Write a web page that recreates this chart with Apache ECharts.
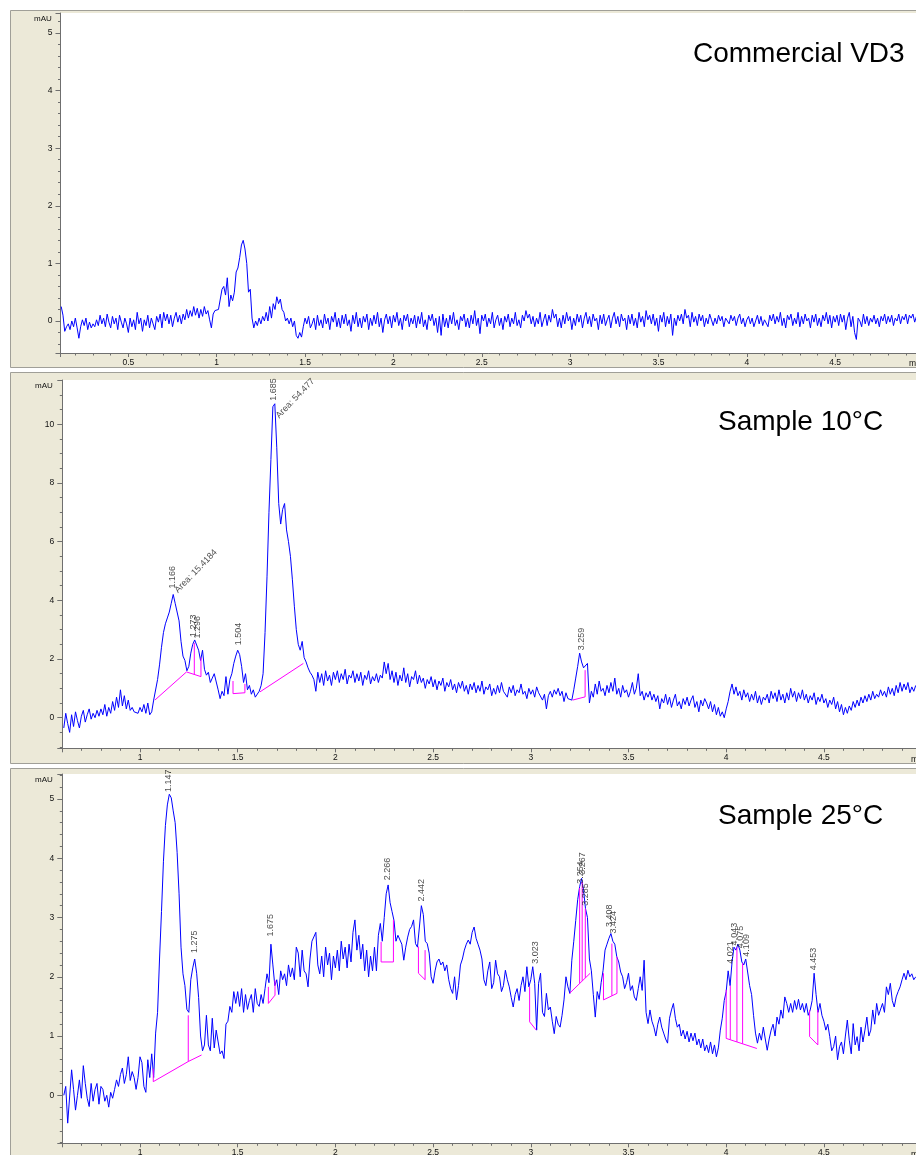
<!DOCTYPE html>
<html><head><meta charset="utf-8">
<script src="https://cdn.jsdelivr.net/npm/echarts@6/dist/echarts.min.js"></script>
<style>html,body{margin:0;padding:0;background:#fff;}#c{width:916px;height:1155px;}</style>
</head><body><div id="c"></div>
<script>
// Sampling: retention time (min) of first point and step
const T0_VD3 = 0.12, T0_S10 = 0.61, T0_S25 = 0.61, DT = 0.01;

// Panel 1: Commercial VD3 (mAU), t = 0.12 .. 4.96
const vd3 = [
0.25,0.1,-0.18,-0.1,-0.05,-0.15,0,-0.1,0.05,-0.12,
-0.3,-0.1,0.02,-0.08,0.05,-0.15,-0.02,-0.12,-0.05,-0.1,
0.02,-0.08,0.1,-0.05,0.05,-0.1,0.12,-0.02,-0.12,0.08,
-0.05,0.05,-0.15,0.1,-0.02,-0.12,0.05,-0.05,-0.2,0.05,
-0.1,0.02,-0.15,0.15,-0.05,0.05,-0.18,0.02,-0.08,0.1,
-0.12,0.05,-0.05,-0.15,0.08,-0.02,0.12,-0.12,0.15,0,
0.12,-0.05,0.1,-0.1,0.05,0.15,-0.02,0.1,-0.05,0.12,
0.02,0.2,0.05,0.18,0.08,0.25,0.1,0.22,0.05,0.2,
0.08,0.25,0.12,0.18,0.02,-0.12,0.12,0.18,0.15,0.2,
0.22,0.55,0.6,0.45,0.75,0.25,0.45,0.35,0.5,0.85,
0.92,1.1,1.32,1.4,1.25,1.0,0.5,0.55,0.05,-0.12,
0,-0.08,0.05,-0.05,0.08,0,0.15,0,0.25,0.05,
0.3,0.2,0.42,0.3,0.38,0.2,0.15,0,0.05,-0.05,
0.05,-0.1,0,-0.25,-0.3,-0.2,-0.28,-0.1,0.05,-0.05,
0.08,-0.12,-0.05,0.05,-0.15,0.1,-0.08,0.02,-0.12,0.12,
-0.05,0.05,-0.15,0.08,-0.02,0.15,-0.1,0.05,-0.12,0.1,
-0.05,0.12,-0.08,0.02,-0.18,0.1,-0.05,0.15,-0.1,0.05,
-0.12,0.08,-0.02,0.12,-0.15,0.05,-0.08,0.1,-0.05,0.15,
-0.1,0.05,-0.2,0.02,0.12,-0.05,0.08,-0.12,0.1,-0.02,
0.15,-0.08,0.05,-0.15,0.1,0,0.12,-0.1,0.05,-0.05,
0.1,-0.12,0.08,-0.05,0.15,-0.1,0.02,-0.15,0.1,0.0,
0.12,-0.08,0.05,-0.2,0.08,-0.25,0.12,-0.1,0.05,-0.12,
0.1,-0.05,0.15,-0.08,0.02,-0.15,0.08,0.0,0.12,-0.1,
0.05,-0.12,0.1,-0.05,0.18,-0.08,0.05,-0.22,0.1,0.0,
0.12,-0.1,0.05,-0.05,0.15,-0.12,0.02,0.1,-0.08,0.05,
-0.15,0.08,-0.02,0.12,-0.1,0.05,-0.05,0.15,-0.08,0.02,
-0.12,0.1,0.0,0.18,0.05,0.12,-0.05,0.08,-0.1,0.05,
-0.05,0.15,-0.1,0.02,0.12,-0.08,0.1,-0.02,0.2,0.05,
0.12,-0.1,0.05,-0.12,0.1,-0.05,0.15,0.0,0.08,-0.15,
0.05,-0.08,0.12,-0.02,0.1,-0.12,0.05,0.15,-0.05,0.08,
-0.1,0.12,0.0,0.05,-0.15,0.1,-0.05,0.12,-0.08,0.02,
0.1,-0.12,0.05,0.15,-0.05,0.08,-0.1,0.12,0.0,0.05,
-0.15,0.1,-0.05,0.12,-0.08,0.05,-0.12,0.15,-0.02,0.08,
-0.1,0.18,0.02,0.1,-0.05,0.12,-0.08,0.05,-0.18,0.1,
-0.02,0.15,-0.1,0.08,-0.05,0.12,-0.25,0.05,-0.08,0.1,
0.0,0.12,-0.05,0.2,0.05,0.1,-0.1,0.15,-0.02,0.08,
-0.08,0.12,0.0,0.1,-0.1,0.05,-0.05,0.12,0.02,-0.08,
0.05,-0.05,0.1,0.0,0.08,-0.1,0.05,0.02,-0.05,0.1,
0.0,0.08,-0.08,0.05,0.12,-0.05,0.05,-0.1,0.02,0.08,
-0.05,0.05,-0.1,0.0,0.1,-0.05,0.08,-0.08,0.02,0.05,
-0.1,0.1,0.0,0.12,-0.05,0.08,-0.02,0.15,-0.08,0.05,
-0.12,0.1,0.02,0.12,-0.08,0.05,-0.05,0.15,-0.1,0.08,
-0.05,0.12,0.0,0.05,-0.12,0.1,-0.02,0.12,-0.08,0.05,
-0.1,0.1,0.0,0.15,-0.05,0.1,-0.12,0.08,-0.02,0.1,
-0.08,0.12,-0.02,0.1,-0.15,0.05,0.15,-0.1,0.08,-0.2,
-0.32,0.05,0.0,-0.1,0.12,-0.05,0.08,-0.08,0.05,-0.02,
0.1,-0.05,0.05,-0.1,0.08,0.0,0.12,-0.05,0.08,-0.02,
0.1,-0.08,0.05,0.0,0.12,-0.05,0.08,0.02,0.12,-0.05,
0.1,0.05,0.12,-0.02,0.08
];

// Panel 2: Sample 10°C (mAU), t = 0.61 .. 4.97
const s10 = [
-0.35,0.15,-0.2,-0.5,0.1,-0.3,0.2,-0.1,-0.35,0.05,
0.25,-0.15,0.1,0.3,-0.05,0.15,0,0.25,0.05,0.3,
0.1,0.45,0.05,0.35,0.15,0.55,0.25,0.7,0.35,0.95,
0.4,0.75,0.3,0.6,0.25,0.35,0.2,0.25,0.15,0.35,
0.2,0.45,0.15,0.5,0.1,0.2,0.6,0.65,1.3,1.8,
2.4,2.9,3.2,3.4,3.6,3.9,4.2,3.9,3.85,3.3,
2.6,2.1,1.95,1.6,1.75,2.2,2.5,2.65,2.62,2.3,
1.95,2.3,1.65,1.45,1.55,1.2,1.35,1.5,1.45,0.95,
0.65,0.9,0.75,1.4,0.8,1.3,1.5,1.85,2.1,2.3,
2.15,1.75,1.2,1.5,0.95,1.1,0.8,0.95,0.7,0.65,
0.9,1.1,1.5,2.9,4.8,7.0,8.8,10.6,10.7,9.2,
7.3,6.6,7.1,7.3,6.4,6.0,5.5,4.7,3.8,3.0,
2.5,2.3,2.6,2.05,1.9,1.7,1.55,1.45,1.3,0.9,
1.55,1.2,1.5,1.1,1.6,1.25,1.45,1.1,1.55,1.3,
1.6,1.2,1.5,1.3,1.65,1.15,1.45,1.35,1.6,1.2,
1.5,1.25,1.55,1.1,1.45,1.3,1.6,1.15,1.4,1.25,
1.5,1.2,1.45,1.35,1.9,1.5,1.85,1.3,1.6,1.2,
1.55,1.1,1.45,1.25,1.7,1.2,1.5,1.05,1.4,1.3,
1.6,1.15,1.45,1.2,1.35,1.0,1.3,1.15,1.4,1.05,
1.3,0.95,1.25,1.1,1.35,0.9,1.2,1.05,1.3,0.95,
1.15,0.85,1.2,1.0,1.25,0.9,1.1,0.8,1.15,0.95,
1.2,0.85,1.1,0.9,1.25,0.8,1.05,0.95,1.15,0.75,
1.0,0.8,1.1,0.85,1.2,0.9,0.95,0.7,1.05,0.85,
1.1,0.75,0.95,0.85,1.15,0.8,0.9,0.65,1.0,0.8,
0.95,0.7,1.05,0.85,0.9,0.6,0.8,0.3,0.75,0.9,
0.7,0.95,0.8,1.0,0.75,0.9,0.55,0.85,0.65,0.7,
0.6,0.95,1.35,1.75,2.2,1.9,1.7,1.65,1.85,0.5,
0.9,0.7,1.15,0.8,1.25,0.9,1.0,0.75,1.1,0.85,
1.2,0.9,1.35,0.8,1.0,0.7,1.1,0.85,0.95,0.7,
0.9,1.2,0.8,1.0,1.5,0.75,0.9,0.6,0.85,0.7,
0.9,0.6,0.8,0.55,0.75,0.3,0.65,0.5,0.8,0.45,
0.7,0.35,0.6,0.8,0.4,0.55,0.3,0.65,0.45,0.7,
0.4,0.6,0.75,0.35,0.55,0.2,0.6,0.4,0.65,0.5,
0.3,0.55,0.2,0.45,0.1,0.35,0.05,0.2,0.0,0.3,
0.55,0.9,1.15,0.8,1.05,0.75,0.9,0.6,0.95,0.7,
0.85,0.55,0.8,0.6,0.9,0.5,0.75,0.45,0.7,0.6,
0.8,0.5,0.9,0.65,0.85,0.55,0.95,0.6,0.8,0.5,
0.85,0.6,1.0,0.7,0.9,0.55,0.85,0.65,0.95,0.6,
0.8,0.5,0.75,0.6,0.85,0.45,0.7,0.55,0.8,0.5,
0.65,0.35,0.6,0.45,0.7,0.3,0.55,0.2,0.45,0.1,
0.35,0.15,0.4,0.25,0.55,0.35,0.6,0.4,0.7,0.5,
0.75,0.55,0.8,0.6,0.9,0.65,0.8,0.7,0.95,0.75,
0.9,0.7,1.05,0.8,1.0,0.75,1.1,0.85,1.2,0.9,
1.15,0.95,1.2,0.85,1.05,0.9,1.1
];

// Panel 3: Sample 25°C (mAU), t = 0.61 .. 4.97
const s25 = [
0.0,0.15,-0.47,-0.45,0.43,0.1,-0.25,0.0,0.26,-0.05,
0.5,0.2,-0.05,-0.19,0.2,-0.1,0.1,0.2,-0.15,0.15,
0.1,-0.1,0.0,-0.2,0.05,-0.05,0.1,0.26,0.15,0.35,
0.46,0.2,0.35,0.65,0.25,0.4,0.3,0.1,0.3,0.65,
0.55,0.15,0.05,0.6,0.3,0.7,0.3,1.05,1.4,2.3,
3.1,3.95,4.55,4.9,5.08,5.02,4.8,4.6,4.1,3.4,
2.5,2.05,1.85,1.45,1.4,1.95,2.15,2.3,2.06,1.65,
1.0,0.75,0.85,1.35,0.85,0.75,1.3,0.8,1.1,0.9,
0.7,0.75,0.62,1.2,1.25,1.5,1.4,1.75,1.55,1.75,
1.5,1.8,1.4,1.7,1.45,1.6,1.7,1.4,1.8,1.55,
1.5,1.7,1.55,1.8,2.05,1.9,2.55,2.2,1.85,1.95,
1.7,2.1,1.95,2.05,1.85,2.2,2.0,2.15,1.95,2.5,
2.4,2.0,2.45,2.1,2.05,1.83,2.3,2.6,2.62,2.75,
2.2,2.05,2.35,2.0,2.5,2.2,2.4,1.95,2.35,2.15,
2.45,2.1,2.6,2.3,2.5,2.15,2.55,2.25,2.75,2.96,
2.45,2.7,2.3,2.55,2.1,2.45,2.0,2.35,2.1,2.5,
2.1,2.7,2.9,2.6,3.0,3.4,3.55,3.25,3.1,2.95,
2.6,2.7,2.7,2.55,2.28,2.5,2.67,2.8,2.85,2.96,
2.56,2.5,2.84,3.2,3.05,2.6,2.56,2.4,2.0,1.89,
2.1,2.25,2.3,2.2,2.25,2.1,2.2,1.95,1.8,1.72,
2.0,1.61,1.85,2.2,2.3,2.45,2.55,2.62,2.55,2.75,
2.84,2.65,2.55,2.45,2.3,1.95,1.85,2.1,2.25,1.8,
1.9,2.28,2.05,2.0,1.75,1.85,2.11,1.95,1.83,1.65,
1.49,1.7,1.8,1.6,1.85,2.0,1.75,2.17,1.83,1.95,
2.17,1.89,1.1,1.89,2.06,1.4,1.33,1.72,1.44,1.49,
1.25,1.04,1.33,1.2,1.15,1.35,1.61,2.0,1.83,1.72,
2.28,2.6,2.95,3.3,3.52,3.66,3.46,3.15,3.0,2.3,
2.1,1.7,1.32,1.75,1.62,1.9,2.11,2.45,2.55,2.65,
2.73,2.6,2.55,2.34,2.25,2.08,2.0,1.8,1.9,2.06,
1.77,1.85,1.66,1.6,1.8,2.0,1.77,2.28,1.4,1.21,
1.44,1.25,1.15,1.0,1.2,1.32,1.15,1.05,0.95,0.88,
1.3,1.44,1.55,1.3,1.15,1.2,1.0,1.1,0.95,1.08,
0.9,1.05,0.92,1.05,0.85,0.95,0.8,0.95,0.75,0.85,
0.72,0.9,0.7,0.85,0.65,0.8,1.1,1.3,1.6,1.75,
2.1,1.85,2.25,2.5,2.45,2.55,2.45,2.25,2.2,2.3,
2.3,1.85,1.7,1.35,1.05,0.88,1.05,0.93,1.15,0.95,
0.76,0.95,1.1,1.2,1.0,1.32,1.2,1.44,1.3,1.66,
1.55,1.4,1.55,1.4,1.6,1.45,1.62,1.44,1.55,1.4,
1.55,1.35,1.44,1.6,2.06,1.7,1.4,1.55,1.35,1.25,
1.1,1.2,0.99,0.75,0.82,1.0,0.6,0.82,0.9,0.7,
1.0,1.27,0.93,0.7,1.21,0.85,0.99,0.75,1.15,0.9,
1.1,1.32,1.0,1.1,1.44,1.2,1.55,1.35,1.32,1.55,
1.4,1.83,1.7,1.89,1.6,1.49,1.66,1.75,1.83,1.95,
2.06,1.95,2.11,2.0,2.05,1.95,2.0
];

// Integration baselines / drop lines (t, mAU)
const base10 = [
  [[1.076,0.6],[1.238,1.56],[1.312,1.4],[1.312,2.05]],
  [[1.278,1.47],[1.278,2.55]],
  [[1.476,1.25],[1.476,0.82],[1.537,0.85],[1.537,1.15]],
  [[1.614,0.88],[1.836,1.85]],
  [[3.214,0.6],[3.278,0.71],[3.278,1.62]]
];
const base25 = [
  [[1.068,0.45],[1.068,0.23],[1.247,0.57],[1.315,0.68]],
  [[1.247,0.57],[1.247,1.35]],
  [[1.657,1.83],[1.657,1.55],[1.691,1.69],[1.691,1.94]],
  [[2.234,2.59],[2.234,2.25],[2.297,2.25],[2.297,2.96]],
  [[2.425,2.51],[2.425,2.06],[2.459,1.95],[2.459,2.45]],
  [[2.994,1.83],[2.994,1.24],[3.028,1.1]],
  [[3.198,1.72],[3.304,2.06]],
  [[3.25,1.89],[3.25,3.5]],
  [[3.263,1.93],[3.263,3.6]],
  [[3.279,1.98],[3.279,3.15]],
  [[3.372,2.06],[3.372,1.61],[3.441,1.72],[3.441,2.34]],
  [[3.415,1.68],[3.415,2.56]],
  [[4.0,1.78],[4.0,0.96],[4.157,0.79]],
  [[4.021,0.94],[4.021,1.85]],
  [[4.055,0.9],[4.055,2.5]],
  [[4.084,0.87],[4.084,2.23]],
  [[4.427,1.44],[4.427,0.99],[4.469,0.85],[4.469,1.44]]
];

// Peak annotations
const peakText10 = ['1.166','Area: 15.4184','1.273','1.296','1.504','1.685','Area: 54.477','3.259'];
const peakT10    = [1.166, 1.186, 1.273, 1.296, 1.504, 1.685, 1.703, 3.259];
const peakV10    = [4.4, 4.3, 2.75, 2.7, 2.47, 10.8, 10.25, 2.3];
const peakRot10  = [90, 46, 90, 90, 90, 90, 46, 90];
const peakText25 = ['1.147','1.275','1.675','2.266','2.442','3.023','3.254','3.267','3.285','3.408','3.424','4.021','4.043','4.075','4.109','4.453'];
const peakT25    = [1.147, 1.278, 1.668, 2.266, 2.442, 3.023, 3.252, 3.264, 3.282, 3.404, 3.424, 4.021, 4.042, 4.072, 4.106, 4.449];
const peakV25    = [5.12, 2.4, 2.68, 3.63, 3.27, 2.22, 3.57, 3.72, 3.2, 2.84, 2.73, 2.22, 2.53, 2.48, 2.34, 2.11];

const titles = ['Commercial VD3', 'Sample 10°C', 'Sample 25°C'];

const FONT = '"Liberation Sans", Arial, sans-serif';
const toPairs = (arr, t0) => arr.map((v, i) => [+(t0 + i * DT).toFixed(3), v]);

const AX = '#6f6f6f';
function xAxis(idx, min, max) {
  return {
    gridIndex: idx, type: 'value', min: min, max: max, splitNumber: 10,
    axisLine: { onZero: false, lineStyle: { color: AX, width: 1 } },
    axisTick: { length: 4, lineStyle: { color: AX } },
    minorTick: { show: true, splitNumber: 5, length: 2.5, lineStyle: { color: AX } },
    splitLine: { show: false }, minorSplitLine: { show: false },
    axisLabel: { fontSize: 8.5, color: '#111', margin: 5, fontFamily: FONT, showMinLabel: false, showMaxLabel: false }
  };
}
function yAxis(idx, min, max, minorSplit) {
  return {
    gridIndex: idx, type: 'value', min: min, max: max, splitNumber: 6,
    axisLine: { show: true, onZero: false, lineStyle: { color: AX, width: 1 } },
    axisTick: { show: true, length: 5, lineStyle: { color: AX } },
    minorTick: { show: true, splitNumber: minorSplit, length: 2.5, lineStyle: { color: AX } },
    splitLine: { show: false }, minorSplitLine: { show: false },
    axisLabel: { fontSize: 8.5, color: '#111', margin: 8, fontFamily: FONT, showMinLabel: false, showMaxLabel: false }
  };
}
function trace(idx, data) {
  return { type: 'line', xAxisIndex: idx, yAxisIndex: idx, data: data, showSymbol: false, symbol: 'none',
    lineStyle: { color: '#0000ff', width: 1 }, animation: false, silent: true, z: 3 };
}
function baseLines(idx, polys) {
  return { type: 'lines', coordinateSystem: 'cartesian2d', xAxisIndex: idx, yAxisIndex: idx, polyline: true,
    data: polys.map(p => ({ coords: p })), lineStyle: { color: '#ff00ff', width: 1, opacity: 1 },
    animation: false, silent: true, z: 4 };
}
function peakLabels(idx, texts, ts, vs, rots) {
  return { type: 'scatter', xAxisIndex: idx, yAxisIndex: idx, symbolSize: 1, silent: true, animation: false,
    itemStyle: { color: 'rgba(0,0,0,0)' }, z: 5,
    data: texts.map((s, i) => ({ name: s, value: [ts[i], vs[i]],
      label: { rotate: rots ? rots[i] : 90 } })),
    label: { show: true, formatter: '{b}', position: 'inside', align: 'left', verticalAlign: 'middle',
      fontSize: 9, color: '#1a1a1a', fontFamily: FONT } };
}

const panelStyle = { fill: '#ECE9D8', stroke: '#a09f98', lineWidth: 1 };
const graphics = [
  { type: 'rect', z: -10, shape: { x: 10.5, y: 10.5, width: 920, height: 357 }, style: panelStyle, silent: true },
  { type: 'rect', z: -10, shape: { x: 10.5, y: 372.5, width: 920, height: 391 }, style: panelStyle, silent: true },
  { type: 'rect', z: -10, shape: { x: 10.5, y: 768.5, width: 920, height: 400 }, style: panelStyle, silent: true },
  { type: 'text', left: 693, top: 40, z: 10, style: { text: titles[0], font: '28px ' + FONT, fill: '#000' } },
  { type: 'text', left: 718, top: 408, z: 10, style: { text: titles[1], font: '28px ' + FONT, fill: '#000' } },
  { type: 'text', left: 718, top: 802, z: 10, style: { text: titles[2], font: '28px ' + FONT, fill: '#000' } },
  { type: 'text', left: 34, top: 15, z: 10, style: { text: 'mAU', font: '8px ' + FONT, fill: '#111' } },
  { type: 'text', left: 35, top: 382, z: 10, style: { text: 'mAU', font: '8px ' + FONT, fill: '#111' } },
  { type: 'text', left: 35, top: 776, z: 10, style: { text: 'mAU', font: '8px ' + FONT, fill: '#111' } },
  { type: 'text', left: 909, top: 359, z: 10, style: { text: 'min', font: '8.5px ' + FONT, fill: '#111' } },
  { type: 'text', left: 911, top: 755, z: 10, style: { text: 'min', font: '8.5px ' + FONT, fill: '#111' } },
  { type: 'text', left: 911, top: 1150, z: 10, style: { text: 'min', font: '8.5px ' + FONT, fill: '#111' } }
];

const chart = echarts.init(document.getElementById('c'), null, { renderer: 'canvas', width: 916, height: 1155 });
const gridCommon = { show: true, backgroundColor: '#ffffff', borderWidth: 0, containLabel: false, outerBoundsMode: 'none' };
chart.setOption({
  animation: false,
  textStyle: { fontFamily: FONT },
  graphic: graphics,
  grid: [
    Object.assign({ left: 60.5, top: 13, width: 855.5, height: 340 }, gridCommon),
    Object.assign({ left: 62.3, top: 380, width: 853.7, height: 368.3 }, gridCommon),
    Object.assign({ left: 62.3, top: 774, width: 853.7, height: 369.3 }, gridCommon)
  ],
  xAxis: [
    xAxis(0, 0.116, 4.9575),
    xAxis(1, 0.6024, 4.9714),
    xAxis(2, 0.6024, 4.9714)
  ],
  yAxis: [
    yAxis(0, -0.556, 5.347, 5),
    yAxis(1, -1.043, 11.51, 4),
    yAxis(2, -0.81, 5.422, 5)
  ],
  series: [
    trace(0, toPairs(vd3, T0_VD3)),
    trace(1, toPairs(s10, T0_S10)),
    trace(2, toPairs(s25, T0_S25)),
    baseLines(1, base10),
    baseLines(2, base25),
    peakLabels(1, peakText10, peakT10, peakV10, peakRot10),
    peakLabels(2, peakText25, peakT25, peakV25, null)
  ]
});
</script></body></html>
